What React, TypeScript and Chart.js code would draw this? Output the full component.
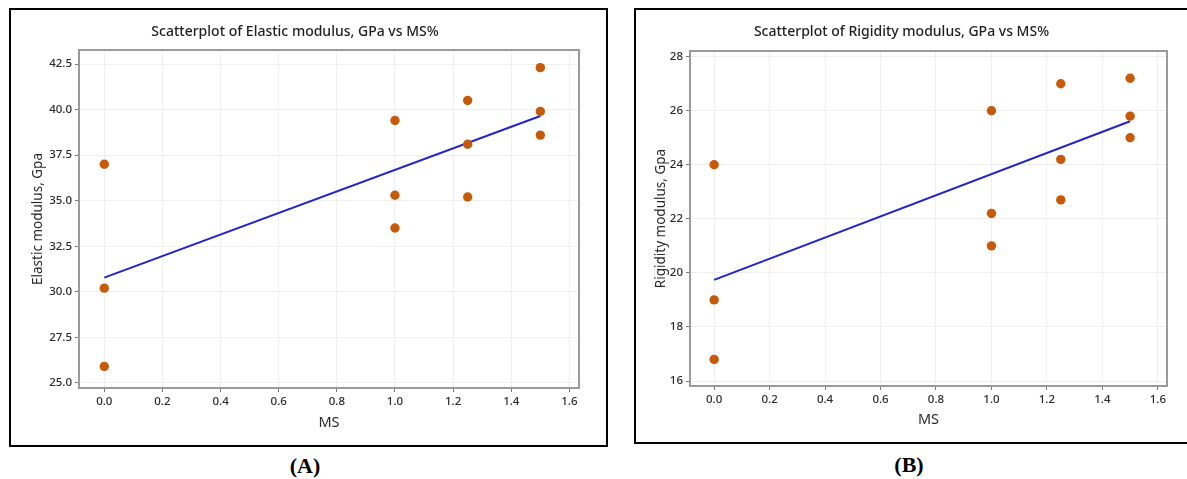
import React, { useEffect, useRef } from "react";
import { Chart, registerables } from "chart.js";

Chart.register(...registerables);

// ---------- data ----------
const msValues = [0, 0, 0, 1, 1, 1, 1.25, 1.25, 1.25, 1.5, 1.5, 1.5];
const elasticValues = [37.0, 30.2, 25.9, 39.4, 35.3, 33.5, 40.5, 38.1, 35.2, 42.3, 39.9, 38.6];
const rigidityValues = [24.0, 19.0, 16.8, 26.0, 22.2, 21.0, 27.0, 24.2, 22.7, 27.2, 25.8, 25.0];

const fitX = [0, 1.5];
const elasticFit = [30.78, 39.65];
const rigidityFit = [19.74, 25.61];

const xTicks = [0, 0.2, 0.4, 0.6, 0.8, 1.0, 1.2, 1.4, 1.6];
const elasticTicks = [25.0, 27.5, 30.0, 32.5, 35.0, 37.5, 40.0, 42.5];
const rigidityTicks = [16, 18, 20, 22, 24, 26, 28];

const FONT = "'Noto Sans', 'Open Sans', sans-serif";

const plotBorder = {
  id: "plotBorder",
  afterDatasetsDraw(chart: any) {
    const { ctx, chartArea } = chart;
    ctx.save();
    ctx.strokeStyle = "#9a9a9a";
    ctx.lineWidth = 2;
    ctx.strokeRect(chartArea.left, chartArea.top, chartArea.right - chartArea.left, chartArea.bottom - chartArea.top);
    ctx.restore();
  },
};

type PanelProps = {
  left: number;
  top: number;
  width: number;
  height: number;
  title: string;
  yTitle: string;
  yValues: number[];
  fitValues: number[];
  yTickValues: number[];
  yMin: number;
  yMax: number;
  yDecimals: number;
  yAxisWidth: number;
  xAxisHeight: number;
  padRight: number;
  titlePadTop: number;
  titlePadBottom: number;
  yTitlePad: number;
};

function Panel(p: PanelProps) {
  const ref = useRef<HTMLCanvasElement>(null);
  useEffect(() => {
    if (!ref.current) return;
    const points = msValues.map((x, i) => ({ x, y: p.yValues[i] }));
    const line = fitX.map((x, i) => ({ x, y: p.fitValues[i] }));
    const chart = new Chart(ref.current, {
      type: "scatter",
      data: {
        datasets: [
          {
            type: "line",
            data: line,
            borderColor: "#2424c8",
            borderWidth: 2,
            pointRadius: 0,
            fill: false,
            order: 2,
          } as any,
          {
            data: points,
            backgroundColor: "#c65a08",
            borderColor: "#c65a08",
            pointRadius: 4.7,
            borderWidth: 0,
            order: 1,
          },
        ],
      },
      options: {
        animation: false,
        responsive: false,
        maintainAspectRatio: false,
        layout: { padding: { left: 0, right: p.padRight, top: 0, bottom: 0 } },
        plugins: {
          legend: { display: false },
          tooltip: { enabled: false },
          title: {
            display: true,
            text: p.title,
            color: "#1e1e1e",
            font: { family: FONT, size: 14, weight: 500 as any, lineHeight: 1.2 },
            padding: { top: p.titlePadTop, bottom: p.titlePadBottom },
          },
        },
        scales: {
          x: {
            type: "linear",
            min: -0.087,
            max: 1.633,
            afterBuildTicks: (s: any) => {
              s.ticks = xTicks.map((v) => ({ value: v }));
            },
            afterFit: (s: any) => {
              s.height = p.xAxisHeight;
            },
            ticks: {
              color: "#2a2a2a",
              font: { family: FONT, size: 11.5, weight: 500 as any },
              padding: 3,
              callback: (v: any) => Number(v).toFixed(1),
            },
            grid: { color: "#efefef", tickColor: "#777", tickLength: 4, lineWidth: 1 },
            border: { display: false },
            title: {
              display: true,
              text: "MS",
              color: "#2a2a2a",
              font: { family: FONT, size: 14.5, lineHeight: 1.2 },
              padding: { top: 0, bottom: 13.3 },
            },
          },
          y: {
            type: "linear",
            min: p.yMin,
            max: p.yMax,
            afterBuildTicks: (s: any) => {
              s.ticks = p.yTickValues.map((v) => ({ value: v }));
            },
            afterFit: (s: any) => {
              s.width = p.yAxisWidth;
            },
            ticks: {
              color: "#2a2a2a",
              font: { family: FONT, size: 11.5, weight: 500 as any },
              padding: 3,
              callback: (v: any) => Number(v).toFixed(p.yDecimals),
            },
            grid: { color: "#efefef", tickColor: "#777", tickLength: 4, lineWidth: 1 },
            border: { display: false },
            title: {
              display: true,
              text: p.yTitle,
              color: "#2a2a2a",
              font: { family: FONT, size: 13.5, lineHeight: 1.2 },
              padding: { top: p.yTitlePad, bottom: 0 },
            },
          },
        },
      },
      plugins: [plotBorder],
    });
    return () => chart.destroy();
  }, []);
  return (
    <canvas
      ref={ref}
      width={p.width}
      height={p.height}
      style={{ position: "absolute", left: p.left, top: p.top, width: p.width, height: p.height }}
    />
  );
}

const boxStyle = (left: number, top: number, width: number, height: number): React.CSSProperties => ({
  position: "absolute",
  left,
  top,
  width,
  height,
  border: "2px solid #000",
  boxSizing: "border-box",
});

const labelStyle = (cx: number, cy: number): React.CSSProperties => ({
  position: "absolute",
  left: cx - 40,
  top: cy - 15,
  width: 80,
  height: 30,
  lineHeight: "30px",
  textAlign: "center",
  fontFamily: "'Liberation Serif', 'Times New Roman', serif",
  fontWeight: "bold",
  fontSize: 22,
  color: "#000",
});

export default function App() {
  return (
    <div style={{ position: "absolute", left: 0, top: 0, width: 1187, height: 479, background: "#fff", overflow: "hidden" }}>
      <div style={boxStyle(9, 8, 599, 439)} />
      <div style={boxStyle(634, 8, 600, 436)} />
      <Panel
        left={11}
        top={10}
        width={595}
        height={435}
        title="Scatterplot of Elastic modulus, GPa vs MS%"
        yTitle="Elastic modulus, Gpa"
        yValues={elasticValues}
        fitValues={elasticFit}
        yTickValues={elasticTicks}
        yMin={24.72}
        yMax={43.27}
        yDecimals={1}
        yAxisWidth={68}
        xAxisHeight={57}
        padRight={27}
        titlePadTop={13.6}
        titlePadBottom={9.6}
        yTitlePad={18.9}
      />
      <Panel
        left={636}
        top={10}
        width={551}
        height={432}
        title="Scatterplot of Rigidity modulus, GPa vs MS%"
        yTitle="Rigidity modulus, Gpa"
        yValues={rigidityValues}
        fitValues={rigidityFit}
        yTickValues={rigidityTicks}
        yMin={15.815}
        yMax={28.21}
        yDecimals={0}
        yAxisWidth={54}
        xAxisHeight={56}
        padRight={20}
        titlePadTop={13.6}
        titlePadBottom={10.6}
        yTitlePad={16.9}
      />
      <div style={labelStyle(305, 466)}>(A)</div>
      <div style={labelStyle(909, 465)}>(B)</div>
    </div>
  );
}
